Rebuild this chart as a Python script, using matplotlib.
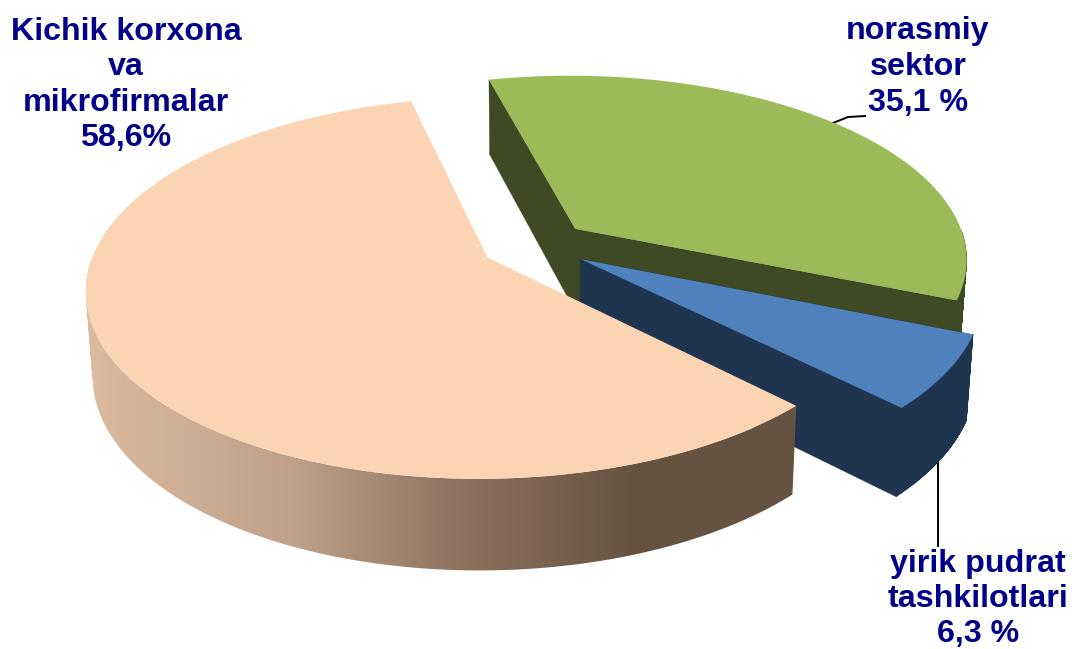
"""Exploded 3D pie of contractor shares, drawn by hand since matplotlib has no perspective pie."""

import numpy as np
import matplotlib

matplotlib.use("Agg")
import matplotlib.pyplot as plt
from matplotlib.colors import LinearSegmentedColormap
from matplotlib.patches import PathPatch
from matplotlib.path import Path

plt.rcParams["font.family"] = ["Liberation Sans", "DejaVu Sans"]

# data, clockwise from the back of the pie
names = ["norasmiy\nsektor\n35,1 %", "yirik pudrat\ntashkilotlari\n6,3 %", "Kichik korxona\nva\nmikrofirmalar\n58,6%"]
shares = [35.1, 6.3, 58.6]
top_colors = ["#9BBB59", "#4F81BD", "#FBD4B4"]
side_colors = ["#3F4923", "#1F344E", None]

# geometry of the pie on screen, in pixels
CX, CY = 535, 245
RX, RY = 391, 182
PERSP = 0.158
DEPTH = 82
BOTTOM_SHRINK = 0.985
EXPLODE = 0.138
START = -14.0

TEXT_COLOR = "#00008B"
SHADE_X0, SHADE_X1 = 92, 640
shade = LinearSegmentedColormap.from_list(
    "peach_side", [(0.0, "#DBBA9E"), (0.38, "#BE9F87"), (0.65, "#8F7562"), (1.0, "#655240")]
)


def project(u, v, bottom=False):
    d = 1 + PERSP * v
    x = CX + u * RX / d
    y = CY - v * RY / d
    if bottom:
        x = CX + (x - CX) * BOTTOM_SHRINK
        y = y + DEPTH / d ** 0.6
    return x, y


def wedge(a0, a1):
    mid = np.radians((a0 + a1) / 2)
    ou, ov = EXPLODE * np.sin(mid), EXPLODE * np.cos(mid)
    t = np.radians(np.linspace(a0, a1, 240))
    return ou, ov, ou + np.sin(t), ov + np.cos(t)


def wall_path(u, v):
    # one path of same-handed quads, a plain outline folds over at the rim's tangent
    tx, ty = project(u, v)
    bx, by = project(u, v, bottom=True)
    quads = []
    for j in range(len(u) - 1):
        q = np.array([[tx[j], ty[j]], [tx[j + 1], ty[j + 1]], [bx[j + 1], by[j + 1]], [bx[j], by[j]]])
        area = np.sum(q[:, 0] * np.roll(q[:, 1], -1) - np.roll(q[:, 0], -1) * q[:, 1])
        quads.append(Path(q if area > 0 else q[::-1]))
    return Path.make_compound_path(*quads)


fig = plt.figure(figsize=(10.72, 6.49), dpi=100)
ax = fig.add_axes([0, 0, 1, 1])

angle = START
for i, share in enumerate(shares):
    sweep = share * 3.6
    ou, ov, us, vs = wedge(angle, angle + sweep)
    z = 2 + i * 2
    side = side_colors[i]

    # the back part of the rim stays hidden behind the top
    front = vs - ov <= 0.0
    rim = wall_path(us[front], vs[front])

    if side is not None:
        # radial walls and rim in a single path, so no seam shows between them
        walls = [wall_path(np.array([ou, us[e]]), np.array([ov, vs[e]])) for e in (0, -1)]
        ax.add_patch(PathPatch(Path.make_compound_path(*walls, rim), fc=side, ec=side, lw=0.3, zorder=z))
    else:
        # horizontal light to dark ramp on the big wedge, flat beyond its ends
        cols = np.arange(1072)
        ramp = np.clip((cols - SHADE_X0) / (SHADE_X1 - SHADE_X0), 0, 1)[None, :]
        im = ax.imshow(ramp, cmap=shade, vmin=0, vmax=1, extent=[0, 1072, 649, 0], aspect="auto", zorder=z)
        im.set_clip_path(rim, transform=ax.transData)

    tx, ty = project(np.r_[ou, us], np.r_[ov, vs])
    ax.fill(tx, ty, color=top_colors[i], lw=0, zorder=z + 1)
    angle += sweep

ax.set_xlim(0, 1072)
ax.set_ylim(649, 0)
ax.axis("off")

# leader lines
ax.plot([833, 848, 865], [123, 117, 116], color="black", lw=1.4, zorder=1)
ax.plot([938, 938], [456, 546], color="black", lw=1.4, zorder=1)

label_style = dict(color=TEXT_COLOR, fontsize=23.2, fontweight="bold", ha="center", va="center")
ax.text(918, 67, names[0], linespacing=1.24, **label_style)
ax.text(978, 599, names[1], linespacing=1.2, **label_style)
ax.text(126, 85, names[2], linespacing=1.24, **label_style)

fig.savefig("out.png", dpi=100)
plt.close(fig)
